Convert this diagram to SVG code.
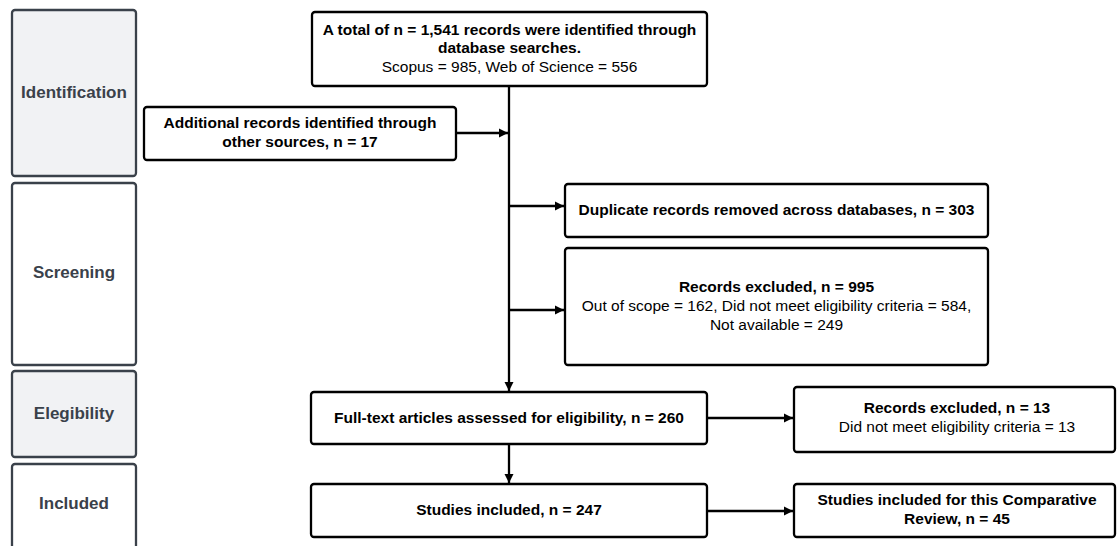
<svg xmlns="http://www.w3.org/2000/svg" width="1118" height="546" viewBox="0 0 1118 546">
<style>
.phase{stroke:#3a414a;stroke-width:2.3}
.gray{fill:#f1f2f4}
.white{fill:#ffffff}
.plabel{font-family:"Liberation Sans",Arial,sans-serif;font-weight:bold;font-size:17px;fill:#3a414a;text-anchor:middle}
.box{fill:#ffffff;stroke:#000000;stroke-width:2.3}
.b{font-family:"Liberation Sans",Arial,sans-serif;font-weight:bold;font-size:15.5px;fill:#000;text-anchor:middle}
.r{font-family:"Liberation Sans",Arial,sans-serif;font-size:15.5px;fill:#000;text-anchor:middle}
.conn{stroke:#000;stroke-width:2.3;fill:none}
</style>
<defs>
<marker id="ah" viewBox="0 0 10 10" refX="10" refY="5" markerWidth="4" markerHeight="4" markerUnits="strokeWidth" orient="auto">
<path d="M0,0 L10,5 L0,10 z" fill="#000"/>
</marker>
</defs>
<rect width="1118" height="546" fill="#ffffff"/>
<g id="phase-identification"><rect class="phase gray" x="12" y="10" width="124" height="166" rx="3"/><text class="plabel" x="74" y="98">Identification</text></g>
<g id="phase-screening"><rect class="phase white" x="12" y="183" width="124" height="182" rx="3"/><text class="plabel" x="74" y="278">Screening</text></g>
<g id="phase-elegibility"><rect class="phase gray" x="12" y="371" width="124" height="86" rx="3"/><text class="plabel" x="74" y="419">Elegibility</text></g>
<g id="phase-included"><rect class="phase white" x="12" y="464" width="124" height="100" rx="3"/><text class="plabel" x="74" y="509">Included</text></g>
<g id="connectors">
<path class="conn" d="M509,86 L509,391" marker-end="url(#ah)"/>
<path class="conn" d="M456,133 L508,133" marker-end="url(#ah)"/>
<path class="conn" d="M509,206 L564,206" marker-end="url(#ah)"/>
<path class="conn" d="M509,310 L564,310" marker-end="url(#ah)"/>
<path class="conn" d="M707,418 L793,418" marker-end="url(#ah)"/>
<path class="conn" d="M509,444 L509,483" marker-end="url(#ah)"/>
<path class="conn" d="M707,511 L793,511" marker-end="url(#ah)"/>
</g>
<g id="node-total"><rect class="box" x="312" y="12" width="395" height="74" rx="3"/>
<text class="b" x="509.5" y="35">A total of n = 1,541 records were identified through</text>
<text class="b" x="509.5" y="53">database searches.</text>
<text class="r" x="509.5" y="72">Scopus = 985, Web of Science = 556</text></g>
<g id="node-additional"><rect class="box" x="144" y="107" width="312" height="53" rx="3"/>
<text class="b" x="300" y="128">Additional records identified through</text>
<text class="b" x="300" y="147">other sources, n = 17</text></g>
<g id="node-duplicate"><rect class="box" x="565" y="184" width="423" height="53" rx="3"/>
<text class="b" x="776.5" y="215">Duplicate records removed across databases, n = 303</text></g>
<g id="node-excluded1"><rect class="box" x="565" y="248" width="423" height="117" rx="3"/>
<text class="b" x="776.5" y="292">Records excluded, n = 995</text>
<text class="r" x="776.5" y="311">Out of scope = 162, Did not meet eligibility criteria = 584,</text>
<text class="r" x="776.5" y="330">Not available = 249</text></g>
<g id="node-fulltext"><rect class="box" x="311" y="392" width="396" height="52" rx="3"/>
<text class="b" x="509" y="423">Full-text articles assessed for eligibility, n = 260</text></g>
<g id="node-excluded2"><rect class="box" x="794" y="387" width="321" height="65" rx="3"/>
<text class="b" x="957" y="413">Records excluded, n = 13</text>
<text class="r" x="957" y="432">Did not meet eligibility criteria = 13</text></g>
<g id="node-studies"><rect class="box" x="311" y="484" width="396" height="53" rx="3"/>
<text class="b" x="509" y="515">Studies included, n = 247</text></g>
<g id="node-comparative"><rect class="box" x="794" y="484" width="321" height="53" rx="3"/>
<text class="b" x="957" y="505">Studies included for this Comparative</text>
<text class="b" x="957" y="524">Review, n = 45</text></g>
</svg>
